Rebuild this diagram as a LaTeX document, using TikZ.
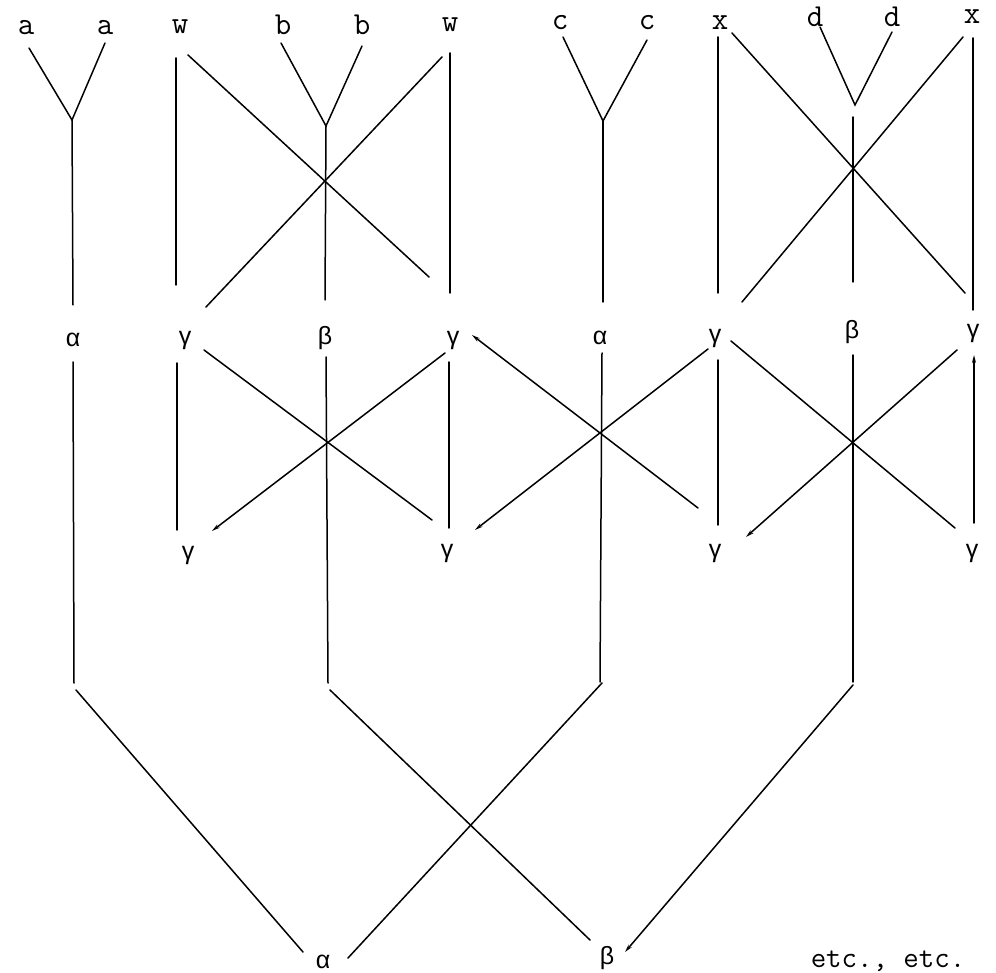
\documentclass[tikz,border=0pt]{standalone}
\usepackage{fontspec}
\newfontfamily\grfont{Liberation Sans}
\usetikzlibrary{arrows.meta}
\tikzset{
  lbl/.style={font=\ttfamily\fontsize{32}{32}\selectfont, inner sep=0pt},
  etcst/.style={font=\ttfamily\fontsize{30}{30}\selectfont, inner sep=0pt, anchor=base},
  grk/.style={font=\grfont\fontsize{25}{25}\selectfont, inner sep=0pt},
  ln/.style={line width=1.5pt, line cap=round},
  arr/.style={ln, -{Stealth[length=8pt,width=4pt]}},
  rarr/.style={ln, {Stealth[length=8pt,width=4pt]}-}
}
\begin{document}
\begin{tikzpicture}[x=1pt,y=-1pt]
\useasboundingbox (0,0) rectangle (996,973);
% ---------- top row labels ----------
\node[lbl] (a1) at (26,28) {a};
\node[lbl] (a2) at (105,28) {a};
\node[lbl] (w1) at (180,27) {w};
\node[lbl] (b1) at (283,25) {b};
\node[lbl] (b2) at (362,25) {b};
\node[lbl] (w2) at (450,25) {w};
\node[lbl] (c1) at (560,23) {c};
\node[lbl] (c2) at (647,23) {c};
\node[lbl] (x1) at (720,23) {x};
\node[lbl] (d1) at (815,17) {d};
\node[lbl] (d2) at (892,17) {d};
\node[lbl] (x2) at (972,17) {x};
% ---------- middle labels ----------
\node[grk] (al1) at (73,340) {α};
\node[grk] (ga1) at (185,340) {γ};
\node[grk] (be1) at (325,338) {β};
\node[grk] (ga2) at (453,340) {γ};
\node[grk] (al2) at (600,338) {α};
\node[grk] (ga3) at (715,338) {γ};
\node[grk] (be2) at (852,332) {β};
\node[grk] (ga4) at (973,333) {γ};
\node[grk] (gb1) at (188,555) {γ};
\node[grk] (gb2) at (447,553) {γ};
\node[grk] (gb3) at (715,553) {γ};
\node[grk] (gb4) at (972,553) {γ};
% ---------- bottom labels ----------
\node[grk] (alB) at (323,962) {α};
\node[grk] (beB) at (607,958) {β};
\node[etcst] (etc) at (888,967) {etc., etc.};

% ---------- top block 1: a a ----------
\coordinate (ya1) at (29,48);
\coordinate (ya2) at (105,43);
\coordinate (yaj) at (72,120);
\coordinate (yab) at (73,305);
\draw[ln] (ya1) -- (yaj) -- (ya2);
\draw[ln] (yaj) -- (yab);
% ---------- top block 2: w b b w ----------
\coordinate (tw1t) at (176,58);  \coordinate (tw1b) at (176,285);
\coordinate (td1t) at (188,55);  \coordinate (td1b) at (429,277);
\coordinate (tb1) at (281,43);   \coordinate (tb2) at (362,46);
\coordinate (tbj) at (326,126);  \coordinate (tbb) at (325,300);
\coordinate (td2t) at (442,57);  \coordinate (td2b) at (206,307);
\coordinate (tw2t) at (450,53);  \coordinate (tw2b) at (450,293);
\draw[ln] (tw1t) -- (tw1b);
\draw[ln] (td1t) -- (td1b);
\draw[ln] (tb1) -- (tbj) -- (tb2);
\draw[ln] (tbj) -- (tbb);
\draw[ln] (td2t) -- (td2b);
\draw[ln] (tw2t) -- (tw2b);
% ---------- top block 3: c c ----------
\coordinate (yc1) at (563,37);
\coordinate (yc2) at (647,40);
\coordinate (ycj) at (603,121);
\coordinate (ycb) at (603,302);
\draw[ln] (yc1) -- (ycj) -- (yc2);
\draw[ln] (ycj) -- (ycb);
% ---------- top block 4: x d d x ----------
\coordinate (tx1t) at (718,37);  \coordinate (tx1b) at (718,293);
\coordinate (te1t) at (732,33);  \coordinate (te1b) at (965,293);
\coordinate (td1) at (820,27);   \coordinate (td2) at (892,32);
\coordinate (tdj) at (855,105);
\coordinate (tdst) at (853,117); \coordinate (tdsb) at (853,282);
\coordinate (te2t) at (963,37);  \coordinate (te2b) at (742,302);
\coordinate (tx2t) at (973,38);  \coordinate (tx2b) at (973,310);
\draw[ln] (tx1t) -- (tx1b);
\draw[ln] (te1t) -- (te1b);
\draw[ln] (td1) -- (tdj) -- (td2);
\draw[ln] (tdst) -- (tdsb);
\draw[ln] (te2t) -- (te2b);
\draw[ln] (tx2t) -- (tx2b);

% ---------- middle row ----------
\coordinate (ma1t) at (73,362);  \coordinate (ma1b) at (74,683);
\coordinate (mv1t) at (177,363); \coordinate (mv1b) at (177,530);
\coordinate (mk1t) at (204,350); \coordinate (mk1b) at (432,520);
\coordinate (mb1t) at (326,357); \coordinate (mb1b) at (328,683);
\coordinate (mk2t) at (445,353); \coordinate (mk2b) at (212,531);
\coordinate (mv2t) at (449,362); \coordinate (mv2b) at (449,528);
\coordinate (mk3t) at (472,335); \coordinate (mk3b) at (698,508);
\coordinate (mk4t) at (708,349); \coordinate (mk4b) at (475,530);
\coordinate (ma2t) at (602,353); \coordinate (ma2b) at (600,682);
\coordinate (mv3t) at (718,360); \coordinate (mv3b) at (718,525);
\coordinate (mk5t) at (731,341); \coordinate (mk5b) at (955,528);
\coordinate (mk6t) at (957,350); \coordinate (mk6b) at (746,537);
\coordinate (mb2t) at (853,355); \coordinate (mb2b) at (853,682);
\coordinate (mv4t) at (974,355); \coordinate (mv4b) at (974,523);
\draw[ln] (ma1t) -- (ma1b);
\draw[ln] (mv1t) -- (mv1b);
\draw[ln] (mk1t) -- (mk1b);
\draw[ln] (mb1t) -- (mb1b);
\draw[arr] (mk2t) -- (mk2b);
\draw[ln] (mv2t) -- (mv2b);
\draw[rarr] (mk3t) -- (mk3b);
\draw[arr] (mk4t) -- (mk4b);
\draw[ln] (ma2t) -- (ma2b);
\draw[ln] (mv3t) -- (mv3b);
\draw[ln] (mk5t) -- (mk5b);
\draw[arr] (mk6t) -- (mk6b);
\draw[ln] (mb2t) -- (mb2b);
\draw[arr] (mv4b) -- (mv4t);

% ---------- bottom crossings ----------
\coordinate (bl1t) at (76,690);  \coordinate (bl1b) at (303,952);
\coordinate (bl2t) at (330,690); \coordinate (bl2b) at (590,940);
\coordinate (bl3t) at (602,683); \coordinate (bl3b) at (348,958);
\coordinate (bl4t) at (853,685); \coordinate (bl4b) at (625,952);
\draw[ln] (bl1t) -- (bl1b);
\draw[ln] (bl2t) -- (bl2b);
\draw[ln] (bl3t) -- (bl3b);
\draw[arr] (bl4t) -- (bl4b);
\end{tikzpicture}
\end{document}
